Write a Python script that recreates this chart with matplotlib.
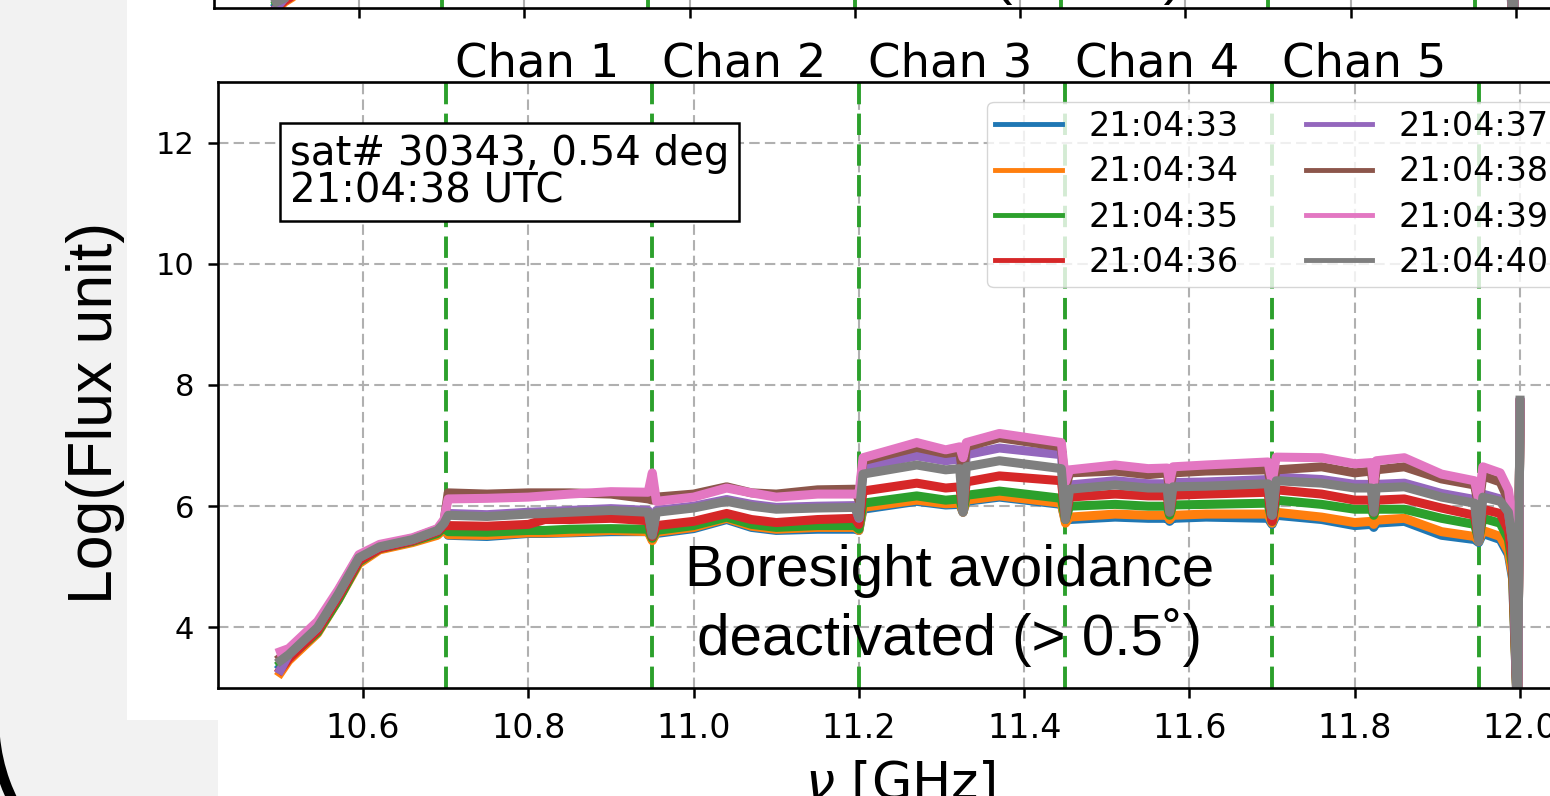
import matplotlib.pyplot as plt
from matplotlib.patches import Polygon, Arc
from matplotlib.transforms import IdentityTransform

# frequency samples [GHz], channel blocks split at the boundaries
freq = [10.500, 10.510, 10.545, 10.570, 10.595, 10.620, 10.660, 10.690, 10.698,
        10.703, 10.750, 10.800, 10.820, 10.850, 10.900, 10.945, 10.950,
        10.955, 11.000, 11.040, 11.070, 11.100, 11.150, 11.195, 11.200,
        11.205, 11.270, 11.305, 11.322, 11.326, 11.330, 11.370, 11.445, 11.450,
        11.455, 11.510, 11.550, 11.573, 11.576, 11.580, 11.620, 11.695, 11.700,
        11.705, 11.760, 11.800, 11.820, 11.823, 11.826, 11.860, 11.905, 11.945, 11.950,
        11.955, 11.976, 11.986, 11.991, 11.997, 12.000]

# log flux per time stamp
s33 = [3.35, 3.5, 3.95, 4.5, 5.1, 5.3, 5.42, 5.55, 5.65,
       5.52, 5.5, 5.55, 5.55, 5.56, 5.58, 5.58, 5.45,
       5.55, 5.63, 5.78, 5.65, 5.6, 5.62, 5.62, 5.6,
       5.95, 6.08, 6.02, 6.03, 5.9, 6.08, 6.15, 6.03, 5.75,
       5.78, 5.82, 5.8, 5.8, 5.75, 5.8, 5.82, 5.8, 5.7,
       5.85, 5.78, 5.68, 5.7, 5.65, 5.72, 5.75, 5.52, 5.45, 5.4,
       5.55, 5.45, 5.2, 4.8, 2.5, 7.65]
s34 = [3.25, 3.45, 3.9, 4.45, 5.05, 5.28, 5.4, 5.52, 5.62,
       5.53, 5.52, 5.56, 5.56, 5.57, 5.6, 5.58, 5.43,
       5.57, 5.65, 5.8, 5.67, 5.62, 5.65, 5.65, 5.6,
       5.98, 6.1, 6.04, 6.05, 5.9, 6.1, 6.17, 6.05, 5.72,
       5.82, 5.87, 5.85, 5.85, 5.78, 5.85, 5.87, 5.87, 5.72,
       5.9, 5.82, 5.73, 5.75, 5.7, 5.77, 5.8, 5.58, 5.5, 5.42,
       5.6, 5.5, 5.25, 4.85, 2.5, 7.7]
s35 = [3.4, 3.5, 3.92, 4.45, 5.08, 5.3, 5.42, 5.55, 5.65,
       5.58, 5.57, 5.6, 5.6, 5.62, 5.63, 5.62, 5.47,
       5.6, 5.68, 5.82, 5.7, 5.65, 5.68, 5.68, 5.62,
       6.05, 6.17, 6.1, 6.12, 5.92, 6.18, 6.25, 6.13, 5.78,
       6.0, 6.03, 6.0, 6.0, 5.85, 6.02, 6.03, 6.05, 5.75,
       6.1, 6.03, 5.95, 5.95, 5.85, 5.95, 5.95, 5.8, 5.7, 5.45,
       5.8, 5.72, 5.45, 5.0, 2.5, 7.68]
s36 = [3.3, 3.48, 3.95, 4.5, 5.1, 5.3, 5.43, 5.58, 5.68,
       5.68, 5.67, 5.7, 5.78, 5.78, 5.8, 5.76, 5.5,
       5.68, 5.75, 5.88, 5.78, 5.73, 5.78, 5.8, 5.7,
       6.25, 6.38, 6.3, 6.32, 5.95, 6.4, 6.5, 6.42, 5.8,
       6.15, 6.2, 6.17, 6.17, 5.9, 6.18, 6.2, 6.23, 5.75,
       6.27, 6.2, 6.1, 6.1, 5.9, 6.1, 6.12, 5.97, 5.85, 5.45,
       5.95, 5.88, 5.6, 5.1, 2.5, 7.7]
s37 = [3.3, 3.55, 4.0, 4.55, 5.15, 5.33, 5.45, 5.6, 5.72,
       5.88, 5.86, 5.9, 5.91, 5.93, 5.96, 5.93, 5.55,
       5.93, 6.0, 6.11, 6.03, 5.98, 6.0, 6.01, 5.8,
       6.65, 6.83, 6.75, 6.78, 6.2, 6.85, 6.96, 6.85, 6.0,
       6.35, 6.42, 6.37, 6.37, 6.0, 6.39, 6.4, 6.44, 5.85,
       6.48, 6.44, 6.36, 6.36, 6.0, 6.36, 6.38, 6.21, 6.11, 5.5,
       6.2, 6.12, 5.9, 5.4, 2.5, 7.72]
s38 = [3.5, 3.6, 4.05, 4.6, 5.18, 5.35, 5.47, 5.62, 5.75,
       6.22, 6.2, 6.22, 6.22, 6.22, 6.2, 6.12, 6.1,
       6.15, 6.2, 6.32, 6.22, 6.2, 6.27, 6.28, 6.1,
       6.75, 6.97, 6.87, 6.9, 6.5, 6.98, 7.13, 6.98, 6.3,
       6.55, 6.58, 6.52, 6.55, 6.3, 6.55, 6.58, 6.6, 6.3,
       6.6, 6.65, 6.55, 6.58, 6.3, 6.6, 6.65, 6.45, 6.35, 6.0,
       6.5, 6.4, 6.1, 5.6, 2.5, 7.7]
s39 = [3.6, 3.65, 4.1, 4.62, 5.2, 5.37, 5.48, 5.63, 5.78,
       6.12, 6.13, 6.15, 6.17, 6.2, 6.24, 6.23, 6.55,
       6.08, 6.15, 6.3, 6.22, 6.15, 6.2, 6.2, 6.2,
       6.8, 7.05, 6.93, 6.98, 6.8, 7.05, 7.2, 7.05, 6.4,
       6.6, 6.68, 6.62, 6.63, 6.4, 6.65, 6.68, 6.73, 6.4,
       6.81, 6.8, 6.7, 6.72, 6.38, 6.75, 6.8, 6.53, 6.42, 6.1,
       6.65, 6.55, 6.27, 5.8, 2.5, 7.7]
s40 = [3.45, 3.55, 4.0, 4.55, 5.15, 5.33, 5.45, 5.6, 5.72,
       5.85, 5.83, 5.87, 5.88, 5.9, 5.93, 5.9, 5.52,
       5.9, 5.97, 6.08, 6.0, 5.95, 5.97, 5.98, 5.82,
       6.53, 6.68, 6.6, 6.62, 5.9, 6.65, 6.75, 6.62, 5.78,
       6.28, 6.35, 6.3, 6.3, 5.9, 6.32, 6.33, 6.37, 5.85,
       6.42, 6.38, 6.3, 6.3, 5.9, 6.3, 6.32, 6.15, 6.05, 5.42,
       6.15, 6.08, 5.9, 5.4, 2.5, 7.75]

times = ['21:04:33', '21:04:34', '21:04:35', '21:04:36',
         '21:04:37', '21:04:38', '21:04:39', '21:04:40']
series = [s33, s34, s35, s36, s37, s38, s39, s40]

chan_edges = [10.7, 10.95, 11.2, 11.45, 11.7, 11.95]
chan_names = ['Chan 1', 'Chan 2', 'Chan 3', 'Chan 4', 'Chan 5']
x_ticks = [10.6, 10.8, 11.0, 11.2, 11.4, 11.6, 11.8, 12.0]
y_ticks = [4, 6, 8, 10, 12]

arial = ['Liberation Sans', 'DejaVu Sans']

fig = plt.figure(figsize=(15.5, 7.96), dpi=100)

# grey slide background on the left and the black rounded edge
fig.add_artist(Polygon([[0, 0], [218, 0], [218, 76], [127, 76], [127, 796], [0, 796]],
                       closed=True, transform=IdentityTransform(),
                       facecolor='#f2f2f2', edgecolor='none', zorder=-1))
fig.add_artist(Arc((176, 76), 364, 364, theta1=185, theta2=215,
                   transform=IdentityTransform(), color='black', lw=7.5))

ax = fig.add_axes([218 / 1550, 108 / 796, 1364 / 1550, 606 / 796])
top = fig.add_axes([214 / 1550, 788 / 796, 1364 / 1550, 0.5])

for a in (ax, top):
    for e in chan_edges:
        a.axvline(e, color='#2ca02c', ls=(0, (5.5, 2.4)), lw=2.8)
    for i, (t, s) in enumerate(zip(times, series)):
        a.plot(freq, s, color='C%d' % i, lw=6.5, label=t)
    a.set_xlim(10.4245, 12.075)
    a.set_xticks(x_ticks)
    a.grid(True, color='#b0b0b0', ls=(0, (5, 2.5)), lw=1.5)
    a.tick_params(direction='out', length=7.2, width=1.8, pad=10)
    for sp in a.spines.values():
        sp.set_linewidth(1.9)

ax.set_ylim(3, 13)
ax.set_yticks(y_ticks)
ax.tick_params(axis='x', labelsize=24)
ax.tick_params(axis='y', labelsize=22)
ax.set_xlabel(r'$\nu$ [GHz]', fontsize=37.5, labelpad=10)

top.set_ylim(3.3, 13.3)
top.tick_params(labelbottom=False, left=False, labelleft=False)

for e, name in zip(chan_edges, chan_names):
    ax.text(e + 0.111, 1.0099, name, transform=ax.get_xaxis_transform(),
            ha='center', va='baseline', fontsize=33.5)

leg = ax.legend(ncol=2, loc='upper right', fontsize=24, labelspacing=0.37,
                borderpad=0.25, bbox_to_anchor=(1 - 8 / 1364, 1 - 3 / 606))
for ln in leg.get_lines():
    ln.set_linewidth(3.5)

ax.text(0.0528, 0.915, 'sat# 30343, 0.54 deg\n21:04:38 UTC', transform=ax.transAxes,
        ha='left', va='top', fontsize=29, linespacing=0.92,
        bbox=dict(boxstyle='square,pad=0.25', fc='white', ec='black', lw=1.8))

ax.text(11.31, 4.36, 'Boresight avoidance\ndeactivated (> 0.5˚)', ha='center',
        va='center', fontsize=42, family=arial, zorder=5)
fig.text(963 / 1550, 1 - 5 / 796, 'Boresight avoidance\nactivated (< 0.5˚)',
         ha='center', va='bottom', fontsize=42, family=arial)

fig.text(96 / 1550, 1 - 413 / 796, 'Log(Flux unit)', rotation=90, ha='center',
         va='center', fontsize=45, family=arial)

fig.savefig('out.png', dpi=100)
